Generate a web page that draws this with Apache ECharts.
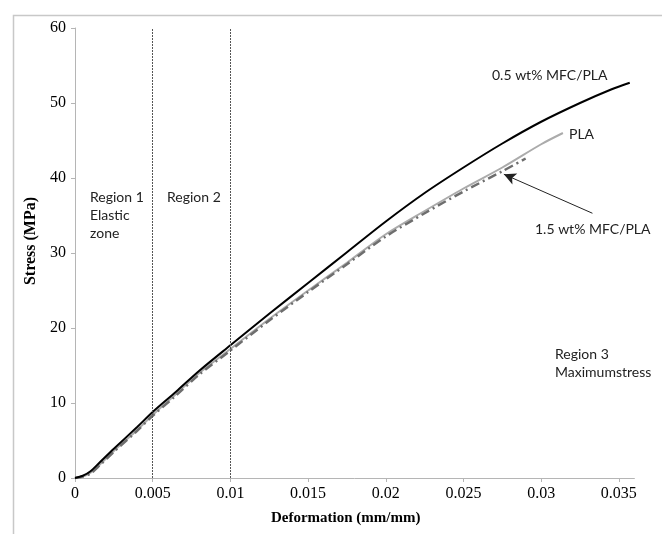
<!DOCTYPE html>
<html>
<head>
<meta charset="utf-8">
<script src="https://cdn.jsdelivr.net/npm/echarts@6/dist/echarts.min.js"></script>
<style>html,body{margin:0;padding:0;background:#fff}#c{width:662px;height:534px}</style>
</head>
<body>
<div id="c"></div>
<script>
// Data
var strainMFC05 = [0,0.0005,0.001,0.0016,0.0025,0.004,0.005,0.0065,0.008,0.01,0.0125,0.015,0.0175,0.02,0.0225,0.025,0.0275,0.03,0.0325,0.0345,0.0357];
var stressMFC05 = [0,0.3,0.9,2.1,3.9,6.8,8.8,11.5,14.3,17.7,21.9,26.0,30.1,34.2,38.0,41.4,44.6,47.5,50.0,51.8,52.7];
var strainPLA = [0,0.0005,0.001,0.0016,0.0025,0.004,0.005,0.0065,0.008,0.01,0.0125,0.015,0.0175,0.02,0.0225,0.025,0.0275,0.03,0.0314];
var stressPLA = [0,0.2,0.7,1.8,3.6,6.4,8.4,11.2,14.0,17.2,21.2,25.0,28.7,32.5,35.6,38.6,41.4,44.5,46.0];
var strainMFC15 = [0,0.0005,0.001,0.0016,0.0025,0.004,0.005,0.0065,0.008,0.01,0.0125,0.015,0.0175,0.02,0.0225,0.025,0.0275,0.029];
var stressMFC15 = [0,0.2,0.6,1.7,3.5,6.3,8.3,11.0,13.8,17.0,21.0,24.8,28.5,32.2,35.3,38.2,40.9,42.6];
var regionBounds = [0.005, 0.01];
var arrowFrom = [0.0333, 35.3];
var arrowTo = [0.0276, 40.5];

function pairs(xs, ys){ return xs.map(function(x,i){ return [x, ys[i]]; }); }

var chart = echarts.init(document.getElementById('c'), null, {renderer:'canvas'});
var serif = '"Liberation Serif","Times New Roman",serif';
var sans = 'Lato,"Open Sans",sans-serif';
var txt = function(l,t,s){ return {type:'text', left:l, top:t, style:{text:s, font:'14px '+sans, fill:'#222'}}; };
chart.setOption({
  animation:false,
  grid:{left:75, top:28, right:27.6, bottom:56},
  xAxis:{type:'value', min:0, max:0.036, interval:0.005,
    axisLine:{lineStyle:{color:'#b5b5b5'}}, axisTick:{lineStyle:{color:'#b5b5b5'}, length:4},
    splitLine:{show:false},
    axisLabel:{showMaxLabel:false, color:'#000', fontFamily:serif, fontSize:16, margin:8,
      formatter:function(v){ return String(+v.toFixed(3)); }},
    name:'Deformation (mm/mm)', nameLocation:'middle', nameGap:33,
    nameTextStyle:{fontFamily:serif, fontWeight:'bold', fontSize:15, color:'#000', padding:[0,18,0,0]}},
  yAxis:{type:'value', min:0, max:60, interval:10,
    axisLine:{show:true, lineStyle:{color:'#b5b5b5'}}, axisTick:{show:true, lineStyle:{color:'#b5b5b5'}, length:4},
    splitLine:{show:false},
    axisLabel:{color:'#000', fontFamily:serif, fontSize:16, margin:9},
    name:'Stress (MPa)', nameLocation:'middle', nameGap:34,
    nameTextStyle:{fontFamily:serif, fontWeight:'bold', fontSize:16, color:'#000', padding:[0,0,0,24]}},
  graphic:[
    {type:'rect', left:11, top:13, shape:{width:700, height:600}, style:{fill:'none', stroke:'#c8c8c8', lineWidth:1.5}, silent:true},
    txt(90,190,'Region 1'), txt(90,208,'Elastic'), txt(90,226,'zone'),
    txt(167,190,'Region 2'),
    txt(555,347,'Region 3'), txt(555,365,'Maximumstress'),
    txt(492,68,'0.5 wt% MFC/PLA'),
    txt(569,127,'PLA'),
    txt(535,222,'1.5 wt% MFC/PLA')
  ],
  series:[
    {name:'PLA', type:'line', data:pairs(strainPLA, stressPLA), smooth:0.3, showSymbol:false,
      lineStyle:{color:'#ababab', width:2}},
    {name:'1.5 wt% MFC/PLA', type:'line', data:pairs(strainMFC15, stressMFC15), smooth:0.3, showSymbol:false,
      lineStyle:{color:'#6e6e6e', width:2.5, type:[9,4,2,4]},
      markLine:{silent:true, symbol:['none','arrow'], symbolSize:[9,12], label:{show:false},
        lineStyle:{color:'#222', width:1, type:'solid'},
        data:[[{coord:arrowFrom},{coord:arrowTo}]]}},
    {name:'0.5 wt% MFC/PLA', type:'line', data:pairs(strainMFC05, stressMFC05), smooth:0.3, showSymbol:false,
      lineStyle:{color:'#000', width:2},
      markLine:{silent:true, symbol:'none', label:{show:false},
        lineStyle:{color:'#555', width:1, type:[2,1]},
        data:regionBounds.map(function(x){ return [{coord:[x,0]},{coord:[x,60]}]; })}}
  ]
});
</script>
</body>
</html>
